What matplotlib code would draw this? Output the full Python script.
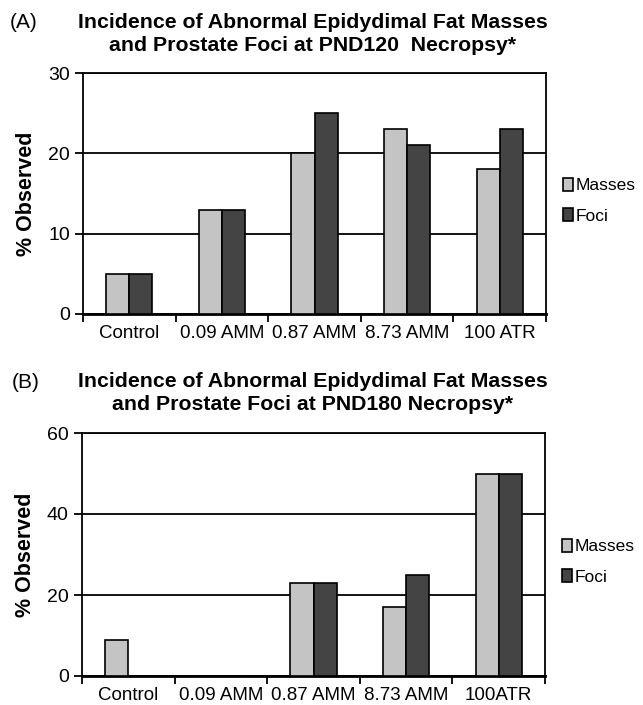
import matplotlib
matplotlib.use("Agg")
import matplotlib.pyplot as plt
import numpy as np

plt.rcParams['font.family'] = ['Liberation Sans', 'DejaVu Sans']

groups_a = ["Control", "0.09 AMM", "0.87 AMM", "8.73 AMM", "100 ATR"]
masses_a = [5, 13, 20, 23, 18]
foci_a = [5, 13, 25, 21, 23]

groups_b = ["Control", "0.09 AMM", "0.87 AMM", "8.73 AMM", "100ATR"]
masses_b = [9, 0, 23, 17, 50]
foci_b = [0, 0, 23, 25, 50]

title_a = "Incidence of Abnormal Epidydimal Fat Masses\nand Prostate Foci at PND120  Necropsy*"
title_b = "Incidence of Abnormal Epidydimal Fat Masses\nand Prostate Foci at PND180 Necropsy*"

LIGHT = "#c4c4c4"
DARK = "#444444"


def draw_panel(ax, groups, masses, foci, ymax, step):
    x = np.arange(len(groups))
    w = 0.25
    ax.bar(x - w / 2, masses, w, color=LIGHT, edgecolor="black", linewidth=1.2,
           label="Masses", zorder=3)
    ax.bar(x + w / 2, foci, w, color=DARK, edgecolor="black", linewidth=1.2,
           label="Foci", zorder=3)
    ax.set_xlim(-0.5, len(groups) - 0.5)
    ax.set_ylim(0, ymax)
    ax.set_yticks(np.arange(0, ymax + 1, step))
    ax.yaxis.grid(True, color="black", linewidth=1.3, zorder=1)
    ax.set_axisbelow(True)
    # labels centred under groups, tick marks on the group boundaries
    ax.set_xticks(x)
    ax.set_xticklabels(groups, fontsize=13.5)
    ax.tick_params(axis="x", length=0, pad=8)
    ax.set_xticks(np.arange(-0.5, len(groups), 1), minor=True)
    ax.tick_params(axis="x", which="minor", length=6, width=1.3, direction="out")
    ax.tick_params(axis="y", labelsize=14, length=6, width=1.3, direction="out")
    for s in ax.spines.values():
        s.set_linewidth(1.3)
    ax.spines["bottom"].set_linewidth(2.0)
    ax.set_ylabel("% Observed", fontsize=15.5, fontweight="bold", labelpad=8)
    ax.legend(loc="center left", bbox_to_anchor=(1.022, 0.47), frameon=False,
              fontsize=12.5, handlelength=0.55, handleheight=0.8, handletextpad=0.15,
              labelspacing=0.85, borderaxespad=0.0)


fig = plt.figure(figsize=(6.43, 7.05), dpi=100)
ax_a = fig.add_axes([83 / 643, 1 - 314 / 705, 463 / 643, 241 / 705])
ax_b = fig.add_axes([82 / 643, 1 - 676 / 705, 463 / 643, 243 / 705])

draw_panel(ax_a, groups_a, masses_a, foci_a, 30, 10)
draw_panel(ax_b, groups_b, masses_b, foci_b, 60, 20)

fig.text(313 / 643, 1 - 34 / 705, title_a, ha="center", va="center", fontsize=15.3,
         fontweight="bold", linespacing=1.3)
fig.text(313 / 643, 1 - 393 / 705, title_b, ha="center", va="center", fontsize=15.3,
         fontweight="bold", linespacing=1.25)
fig.text(10 / 643, 1 - 23 / 705, "(A)", ha="left", va="center", fontsize=15)
fig.text(12 / 643, 1 - 383 / 705, "(B)", ha="left", va="center", fontsize=15)

fig.savefig("out.png", dpi=100)
